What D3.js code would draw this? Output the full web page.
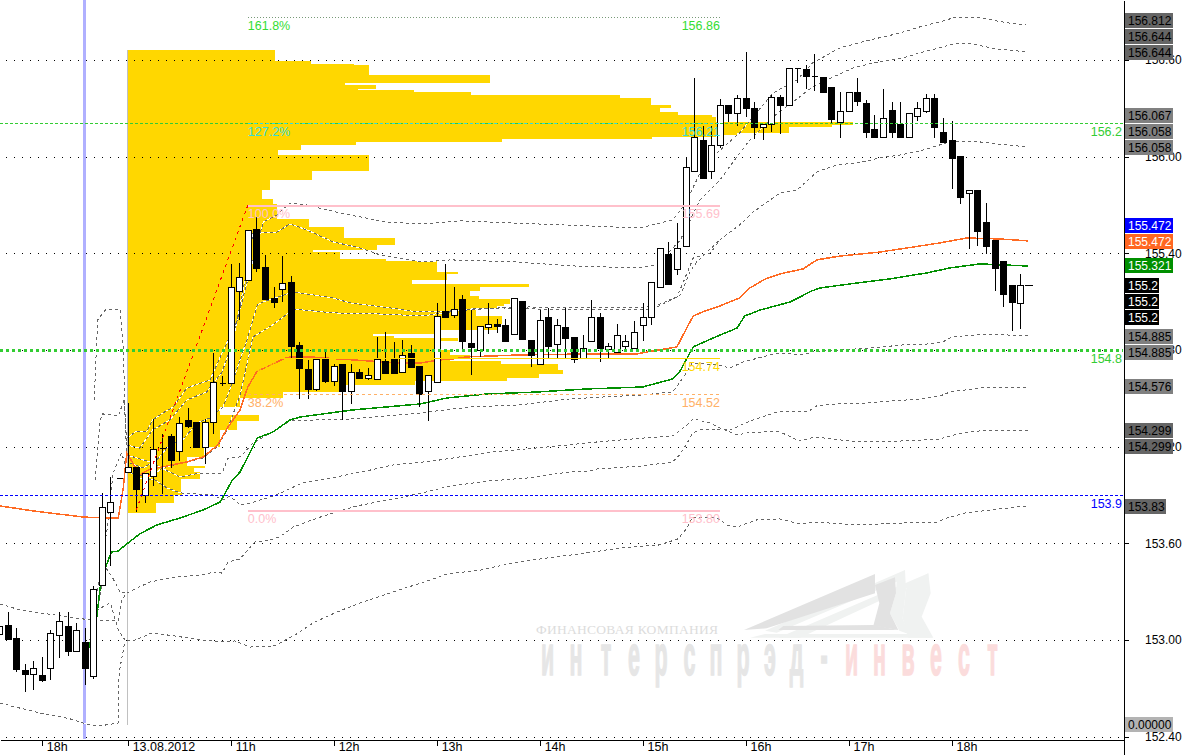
<!DOCTYPE html>
<html><head><meta charset="utf-8">
<script src="https://cdnjs.cloudflare.com/ajax/libs/d3/7.8.5/d3.min.js"></script>
<style>html,body{margin:0;padding:0;background:#fff;overflow:hidden}svg{display:block}text{font-family:"Liberation Sans",Arial,sans-serif}</style>
</head><body><div id="chart"></div>
<script>
// ---------- candles (5-minute bars) ----------
const opens=[153.037,153.093,153.012,152.814,152.789,152.783,152.826,153.031,153.087,152.932,152.988,152.777,153.341,153.795,154.005,154.043,154.074,153.900,154.018,154.191,154.266,154.173,154.365,154.353,154.198,154.353,154.595,154.595,155.166,155.234,155.551,155.315,155.123,155.179,155.222,154.831,154.682,154.558,154.744,154.608,154.713,154.546,154.663,154.626,154.620,154.732,154.744,154.663,154.781,154.701,154.546,154.601,155.042,155.017,155.117,154.844,154.800,154.943,154.961,154.955,154.899,155.104,154.862,154.713,155.005,154.837,154.943,154.881,154.750,154.856,155.005,154.806,154.788,154.825,154.812,154.955,155.005,155.191,155.396,155.303,155.445,155.911,156.103,155.911,156.072,156.321,156.271,156.364,156.302,156.184,156.203,156.370,156.321,156.550,156.544,156.501,156.494,156.432,156.215,156.283,156.401,156.333,156.172,156.122,156.290,156.203,156.122,156.252,156.283,156.364,156.153,156.103,156.004,155.774,155.793,155.594,155.483,155.353,155.203,155.092];
const highs=[153.087,153.180,153.081,152.857,152.876,152.901,153.068,153.180,153.180,153.112,153.081,153.341,153.919,154.018,154.005,154.477,154.074,154.043,154.378,154.284,154.284,154.390,154.446,154.353,154.378,154.788,154.645,155.340,155.346,155.545,155.632,155.396,155.197,155.390,155.265,154.856,154.744,154.744,154.800,154.719,154.713,154.719,154.688,154.695,154.887,154.918,154.856,154.868,154.837,154.701,154.645,155.098,155.340,155.197,155.148,155.054,154.949,155.098,154.998,154.998,155.123,155.104,154.862,155.054,155.067,154.998,155.067,154.881,154.899,155.117,155.036,154.850,154.967,154.899,154.986,155.098,155.222,155.433,155.477,155.594,155.998,156.494,156.197,156.197,156.364,156.321,156.389,156.656,156.346,156.203,156.389,156.389,156.550,156.557,156.575,156.643,156.494,156.432,156.408,156.401,156.494,156.358,156.265,156.426,156.346,156.346,156.271,156.346,156.395,156.395,156.246,156.228,156.004,155.793,155.793,155.719,155.483,155.353,155.203,155.278];
const lows=[153.037,153.006,152.808,152.684,152.696,152.746,152.758,152.894,152.907,152.932,152.727,152.764,153.341,153.465,154.005,154.043,153.801,153.857,153.962,153.913,154.074,154.117,154.322,154.198,154.098,154.284,154.583,154.595,154.992,155.234,155.290,155.117,155.067,155.104,154.757,154.502,154.502,154.552,154.601,154.583,154.372,154.471,154.626,154.620,154.620,154.657,154.657,154.663,154.694,154.453,154.365,154.601,155.005,155.005,154.800,154.651,154.763,154.905,154.912,154.856,154.899,154.868,154.701,154.713,154.750,154.757,154.757,154.725,154.750,154.856,154.732,154.750,154.788,154.806,154.812,154.862,154.961,155.191,155.210,155.272,155.445,155.911,155.868,155.868,156.060,156.222,156.197,156.252,156.116,156.110,156.159,156.147,156.321,156.463,156.426,156.414,156.401,156.209,156.122,156.283,156.321,156.122,156.122,156.122,156.122,156.122,156.122,156.228,156.277,156.122,156.091,155.805,155.712,155.433,155.452,155.402,155.172,155.073,154.924,154.937];
const closes=[153.087,153.006,152.820,152.789,152.826,152.752,153.043,153.118,152.932,153.062,152.826,153.316,153.826,153.857,154.005,154.074,153.937,154.036,154.185,154.191,154.117,154.347,154.328,154.198,154.353,154.601,154.595,155.191,155.253,155.545,155.309,155.117,155.098,155.216,154.825,154.688,154.558,154.744,154.608,154.701,154.546,154.663,154.626,154.645,154.744,154.657,154.657,154.769,154.694,154.527,154.645,155.011,155.005,155.054,154.856,154.819,154.949,154.961,154.949,154.856,155.123,154.868,154.769,154.986,154.825,154.955,154.874,154.744,154.812,155.005,154.812,154.825,154.893,154.856,154.912,155.005,155.222,155.433,155.210,155.433,155.936,156.122,155.868,156.072,156.321,156.271,156.364,156.302,156.184,156.203,156.370,156.321,156.550,156.550,156.501,156.501,156.401,156.234,156.283,156.401,156.346,156.153,156.122,156.240,156.153,156.122,156.271,156.302,156.364,156.184,156.091,155.992,155.750,155.793,155.539,155.445,155.309,155.148,155.098,155.203];

// ---------- moving lines: [bar index, price] ----------
const vwapOrange=[[0.1,153.832],[4.0,153.801],[9.8,153.763],[12.4,153.757],[13.9,153.757],[14.5,153.950],[14.9,154.161],[15.6,154.098],[16.4,154.024],[17.4,154.055],[18.4,154.067],[21.9,154.105],[23.8,154.136],[25.5,154.210],[26.7,154.322],[28.1,154.428],[29.0,154.570],[30.1,154.670],[31.2,154.694],[33.1,154.744],[33.9,154.757],[36.2,154.757],[41.3,154.738],[46.7,154.719],[49.1,154.719],[51.4,154.738],[52.9,154.744],[54.5,154.757],[60.7,154.769],[68.5,154.775],[74.3,154.775],[76.2,154.794],[79.0,154.819],[80.2,154.943],[80.9,155.011],[82.0,155.036],[84.0,155.073],[86.3,155.123],[87.5,155.185],[89.3,155.241],[91.0,155.272],[93.7,155.303],[95.3,155.359],[98.0,155.383],[102.7,155.408],[105.8,155.433],[109.6,155.464],[112.8,155.495],[116.6,155.489],[119.9,155.477]];
const vwapGreen=[[10.4,152.938],[11.4,153.143],[11.8,153.329],[12.4,153.447],[13.1,153.546],[13.9,153.552],[14.9,153.596],[16.4,153.658],[18.4,153.714],[21.1,153.757],[23.8,153.807],[25.8,153.857],[27.2,153.993],[28.1,154.043],[30.1,154.253],[31.9,154.290],[33.9,154.365],[35.1,154.384],[41.3,154.428],[49.1,154.465],[52.2,154.502],[56.9,154.527],[62.7,154.539],[68.5,154.558],[75.0,154.570],[78.5,154.620],[79.3,154.663],[80.9,154.819],[83.2,154.874],[86.0,154.936],[86.9,155.011],[88.7,155.048],[92.2,155.098],[94.7,155.166],[95.7,155.185],[99.2,155.210],[103.8,155.241],[108.1,155.278],[110.8,155.309],[114.3,155.334],[119.9,155.321]];
const band812=[[14.9,154.253],[15.9,154.291],[17.2,154.291],[17.9,154.365],[19.1,154.409],[20.3,154.446],[21.9,154.564],[24.6,154.614],[26.0,154.781],[27.7,154.973],[29.2,155.278],[30.8,155.594],[32.4,155.638],[33.9,155.712],[35.9,155.700],[39.7,155.650],[45.2,155.594],[49.1,155.582],[53.7,155.601],[74.7,155.557],[78.5,155.607],[79.9,155.700],[81.7,155.899],[83.4,156.010],[86.3,156.147],[90.2,156.395],[93.0,156.476],[94.8,156.581],[98.0,156.675],[101.5,156.724],[105.0,156.767],[107.3,156.805],[109.6,156.836],[111.6,156.867],[114.3,156.861],[117.5,156.830],[119.7,156.817]];
const band644=[[14.9,154.210],[16.4,154.191],[17.9,154.303],[19.9,154.365],[21.9,154.490],[24.2,154.539],[26.0,154.663],[27.3,154.862],[28.9,155.297],[29.6,155.526],[32.4,155.532],[33.9,155.582],[35.9,155.545],[38.9,155.471],[42.1,155.433],[44.4,155.390],[49.4,155.346],[52.6,155.359],[60.4,155.346],[66.5,155.322],[74.7,155.309],[76.7,155.328],[79.4,155.483],[81.7,155.731],[84.0,155.855],[87.2,156.085],[90.2,156.246],[94.8,156.432],[97.2,156.494],[99.5,156.550],[101.8,156.581],[105.8,156.619],[107.7,156.650],[109.6,156.675],[111.2,156.699],[113.4,156.699],[116.3,156.668],[119.8,156.650]];
const band058=[[15.3,154.098],[16.8,154.067],[18.4,154.117],[19.9,154.210],[21.4,154.241],[23.1,154.347],[24.6,154.378],[26.1,154.446],[26.9,154.552],[28.9,154.862],[30.1,155.079],[30.8,155.098],[34.3,155.160],[38.9,155.123],[40.9,155.092],[45.6,155.061],[48.7,155.036],[51.4,155.036],[54.9,155.054],[61.9,155.067],[66.5,155.061],[76.2,155.067],[79.0,155.129],[79.6,155.203],[80.9,155.371],[82.9,155.402],[84.0,155.483],[86.3,155.576],[87.9,155.657],[91.0,155.774],[93.0,155.793],[95.3,155.905],[97.6,155.948],[100.0,155.961],[102.7,155.992],[105.0,156.010],[107.3,156.035],[109.6,156.072],[110.8,156.091],[114.3,156.091],[117.5,156.072],[119.8,156.060]];
const band067=[[15.0,154.043],[17.6,154.005],[19.0,154.067],[21.9,154.105],[23.8,154.129],[25.4,154.198],[26.6,154.303],[28.1,154.521],[29.6,154.881],[31.9,154.955],[33.6,155.023],[34.3,155.054],[38.9,155.030],[44.4,155.023],[49.4,155.011],[51.7,155.030],[54.5,155.048],[58.4,155.061],[66.5,155.048],[76.2,155.054],[79.4,155.141],[80.5,155.284],[81.3,155.346],[84.0,155.483]];
const band885=[[14.9,154.148],[17.6,154.105],[19.4,154.055],[21.1,154.012],[23.4,154.036],[26.0,154.036],[26.7,154.129],[28.1,154.136],[29.6,154.222],[31.6,154.284],[33.9,154.359],[36.5,154.365],[41.3,154.372],[49.1,154.409],[54.9,154.446],[60.7,154.459],[66.5,154.496],[70.4,154.508],[75.0,154.521],[78.5,154.539],[79.7,154.626],[80.8,154.719],[83.7,154.707],[85.2,154.688],[86.7,154.725],[90.7,154.781],[93.7,154.769],[94.7,154.788],[101.5,154.812],[105.3,154.831],[107.3,154.831],[110.0,154.850],[111.0,154.881],[115.1,154.899],[119.9,154.887]];
const band576=[[14.9,153.292],[17.6,153.360],[20.7,153.391],[23.4,153.403],[25.2,153.422],[26.0,153.415],[26.7,153.484],[28.1,153.503],[29.8,153.608],[31.6,153.621],[32.7,153.639],[34.3,153.701],[37.1,153.757],[39.7,153.801],[41.7,153.832],[45.9,153.875],[49.4,153.913],[52.6,153.956],[57.2,153.987],[61.5,154.005],[66.5,154.043],[68.5,154.043],[69.7,154.061],[75.0,154.080],[78.5,154.105],[79.3,154.148],[80.2,154.222],[80.8,154.284],[81.7,154.303],[83.7,154.309],[85.2,154.303],[87.5,154.359],[90.7,154.415],[94.2,154.415],[95.3,154.453],[97.6,154.465],[101.5,154.471],[103.8,154.483],[107.7,154.496],[110.0,154.521],[110.8,154.539],[115.1,154.570],[119.9,154.570]];
const band299=[[14.9,154.055],[16.4,154.005],[18.2,153.993],[19.6,153.943],[21.1,153.913],[24.9,153.900],[26.1,153.869],[26.9,153.894],[28.1,153.838],[29.3,153.850],[31.6,153.887],[33.1,153.919],[35.3,153.974],[38.6,154.005],[42.3,154.043],[45.9,154.086],[50.6,154.111],[53.7,154.136],[57.6,154.167],[63.9,154.198],[69.7,154.229],[75.0,154.253],[78.5,154.266],[79.9,154.322],[80.9,154.372],[82.8,154.347],[84.0,154.316],[86.0,154.272],[87.2,154.285],[89.0,154.291],[91.0,154.291],[93.3,154.235],[95.1,154.260],[100.0,154.229],[105.3,154.235],[109.6,154.247],[110.8,154.266],[112.3,154.285],[115.1,154.303],[119.9,154.303]];
const band383=[[14.9,152.994],[15.9,153.000],[17.8,153.043],[20.5,153.025],[23.4,153.000],[26.0,152.988],[27.5,152.994],[29.3,152.956],[32.2,152.963],[33.6,153.006],[34.5,153.031],[36.6,153.106],[39.4,153.174],[42.1,153.230],[45.9,153.298],[49.9,153.366],[52.2,153.409],[56.1,153.434],[59.9,153.478],[63.9,153.509],[67.7,153.534],[72.4,153.571],[77.0,153.590],[79.1,153.627],[80.2,153.695],[80.8,153.763],[83.7,153.757],[84.8,153.714],[86.0,153.701],[88.3,153.745],[91.0,153.751],[93.3,153.720],[95.1,153.732],[100.0,153.714],[105.3,153.726],[109.3,153.732],[110.8,153.763],[112.6,153.788],[115.5,153.807],[119.8,153.832]];
const prevLow=[[0.1,152.609],[1.9,152.584],[4.8,152.547],[8.3,152.510],[10.6,152.472],[12.4,152.472],[13.9,152.485],[14.0,152.795],[14.6,152.969],[14.9,152.994]];
const prevUp=[[0.1,153.223],[2.5,153.186],[4.8,153.168],[8.9,153.136],[11.8,153.118],[13.9,153.118],[14.3,153.248],[14.9,153.292]];
const prevC=[[10.6,153.000],[11.4,153.186],[13.0,153.230],[13.9,153.062],[14.7,153.000]];
const prevD=[[10.8,153.062],[11.8,153.267],[12.4,153.453],[13.2,153.391],[14.1,153.298],[14.9,153.292]];
const prevE=[[11.1,153.155],[11.8,153.434],[12.6,153.683],[13.3,154.036],[14.3,154.161],[14.9,154.055]];
const prevF=[[11.2,153.993],[11.8,154.365],[12.1,154.403],[13.9,154.390],[14.6,154.490],[14.9,154.210]];
const prevG=[[11.1,154.490],[11.5,154.986],[12.4,155.048],[14.1,155.054],[14.5,154.800],[14.7,154.365],[14.9,154.148]];

// ---------- volume profile: upper edge of each price band, then its volume ----------
const profilePrices=[156.662,156.594,156.575,156.569,156.507,156.457,156.445,156.420,156.414,156.401,156.383,156.364,156.321,156.302,156.277,156.259,156.246,156.215,156.197,156.184,156.147,156.134,156.122,156.110,156.091,156.072,156.041,156.010,155.911,155.855,155.793,155.737,155.706,155.613,155.563,155.495,155.452,155.421,155.408,155.365,155.353,155.284,155.272,155.234,155.210,155.191,155.166,155.135,155.117,155.086,155.073,155.061,155.011,154.961,154.924,154.899,154.887,154.874,154.856,154.800,154.769,154.750,154.732,154.713,154.676,154.651,154.626,154.608,154.583,154.539,154.502,154.446,154.397,154.359,154.303,154.198,154.136,154.080,154.067,154.043,154.000,153.919,153.900,153.850,153.788];
const profileVolumes=[148,184,227,242,363,218,249,231,287,344,493,524,544,533,551,585,589,726,705,662,610,589,525,375,229,174,151,242,185,143,135,146,150,182,217,268,250,186,213,259,310,331,320,285,402,353,343,352,383,377,370,349,375,370,313,246,267,331,313,323,343,323,374,431,436,412,380,288,216,156,113,93,132,110,93,77,60,78,67,73,54,55,47,29];

// ---------- fibonacci, levels, labels ----------
const fibLevels=[156.868,156.208,155.698,154.747,154.524,153.806];
const fibPercents=["161.8%","127.2%","100.0%","50.0%","38.2%","0.0%"];
const fibPrices=["156.86","156.21","155.69","154.74","154.52","153.80"];
const fibColors=["#33dd33","#33dddd","#ffc0cb","#ffd700","#ffb066","#ffc0cb"];
const levelPrices=[156.206,154.8,153.9];
const levelLabels=["156.2","154.8","153.9"];
const levelColors=["#33cc33","#33cc33","#0000ff"];
const priceTicks=[156.6,156.0,155.4,154.8,154.2,153.6,153.0,152.4];
const timeTickBars=[5,15,27,39,51,63,75,87,99,111];
const timeTickLabels=["18h","13.08.2012","11h","12h","13h","14h","15h","16h","17h","18h"];
const tagLabels=["156.812","156.644","156.644","156.067","156.058","156.058","155.472","155.472","155.321","155.2","155.2","155.2","154.885","154.885","154.576","154.299","154.299","153.83","0.00000"];
const tagFills=["#666666","#666666","#666666","#808080","#808080","#808080","#0000ff","#ff6622","#008f00","#000000","#000000","#000000","#808080","#808080","#808080","#666666","#666666","#666666","#b3b3b3"];
const tagInk=["#000","#000","#000","#000","#000","#000","#fff","#fff","#fff","#fff","#fff","#fff","#000","#000","#000","#000","#000","#000","#000"];

// ---------- layout ----------
const W=1182,H=755,axisX=1123,axisY=739;
const tagTops=[13,29,45,108,124,140,218,234,258,278,294,310,329,345,379,423,439,499,717];
const x=d3.scaleLinear().domain([0.126,130.97]).range([0,axisX]);
const y=d3.scaleLinear().domain([156.972,152.286]).range([0,H]);
const vol=d3.scaleLinear().domain([0,726]).range([x(14.92),x(14.92)+726]);
const cx=i=>Math.round(x(i))+0.5, cy=p=>Math.round(y(p))+0.5;

const svg=d3.select("#chart").append("svg").attr("width",W).attr("height",H).attr("viewBox",`0 0 ${W} ${H}`);

// watermark
const wm=svg.append("g");
const z=p=>p.map(([a,b])=>[520+a/3,560+b/3].join(",")).join(" ");
[[[775,233],[1225,40],[1225,55],[840,233]],
 [[1160,80],[1225,40],[1232,100],[1205,170],[1240,233],[1165,233],[1148,175],[1158,90]],
 [[735,212],[1155,30],[1155,55],[770,218]],
 [[1130,60],[1155,30],[1158,90],[1148,175],[1165,222],[1138,212],[1110,160],[1128,100]],
 [[690,233],[1240,233],[1165,222],[735,222]]]
 .forEach(p=>wm.append("polygon").attr("points",z(p)).attr("fill","#f0f2f1"));
[[[672,210],[1065,42],[1065,100],[740,205]],
 [[790,198],[1060,195],[1135,210],[775,210]],
 [[1065,75],[1125,52],[1128,100],[1110,160],[1135,210],[1060,197],[1078,130]]]
 .forEach(p=>wm.append("polygon").attr("points",z(p)).attr("fill","#e2e2e2"));
wm.append("text").attr("x",536).attr("y",634).attr("font-size",13.5).attr("fill","#dcdcdc").style("font-family","'Liberation Serif',serif").attr("textLength",182).text("ФИНАНСОВАЯ КОМПАНИЯ");
const wmChars="интерспрэд-инвест".split("");
const wmX=[547.5,576,606,634,661,689.5,716,743,770,796.5,824,851.5,879.5,908,936,964,992.5];
wmChars.forEach((c,i)=>wm.append("text").attr("transform",`translate(${wmX[i]},675) scale(0.37,1)`)
  .attr("text-anchor","middle").attr("font-size",58).attr("font-weight","bold")
  .attr("fill",i>10?"#fbdcdc":"#e6e6e6").attr("stroke",i>10?"#fbdcdc":"#e6e6e6").attr("stroke-width",1.5).text(c));

// volume profile
svg.append("g").selectAll("rect").data(profileVolumes).join("rect")
  .attr("x",vol(0)).attr("width",d=>vol(d)-vol(0))
  .attr("y",(d,i)=>Math.round(y(profilePrices[i])))
  .attr("height",(d,i)=>Math.round(y(profilePrices[i+1]))-Math.round(y(profilePrices[i])))
  .attr("fill","#ffd700").attr("shape-rendering","crispEdges");

// dotted grid
svg.append("g").selectAll("line").data(priceTicks).join("line")
  .attr("x1",6).attr("x2",axisX-2).attr("y1",cy).attr("y2",cy)
  .attr("stroke","#000").attr("stroke-dasharray","1,7").attr("shape-rendering","crispEdges");

// session separators
const sep=svg.append("g").attr("shape-rendering","crispEdges");
sep.append("line").attr("x1",x(10)).attr("x2",x(10)).attr("y1",0).attr("y2",axisY).attr("stroke","#b0b0ff").attr("stroke-width",3);
sep.append("line").attr("x1",cx(14.92)).attr("x2",cx(14.92)).attr("y1",y(156.662)).attr("y2",y(152.472)).attr("stroke","#c0c0c0");

// bands
const path=d3.line().x(d=>x(d[0])).y(d=>y(d[1]));
const bands=[band812,band644,band058,band067,band885,band576,band299,band383,prevLow,prevUp,prevC,prevD,prevE,prevF,prevG];
const bg=svg.append("g").attr("fill","none").attr("shape-rendering","crispEdges");
bg.selectAll("path.u").data(bands).join("path").attr("class","u").attr("d",path).attr("stroke","#fff").attr("stroke-width",1);
bg.selectAll("path.d").data(bands).join("path").attr("class","d").attr("d",path).attr("stroke","#666").attr("stroke-width",1).attr("stroke-dasharray","3,3");

// vwaps
svg.append("path").attr("d",path(vwapOrange)).attr("fill","none").attr("stroke","#ff6a22").attr("stroke-width",1.5).attr("shape-rendering","crispEdges");
svg.append("path").attr("d",path(vwapGreen)).attr("fill","none").attr("stroke","#008f00").attr("stroke-width",1.5).attr("shape-rendering","crispEdges");

// candles
const cg=svg.append("g").attr("shape-rendering","crispEdges");
cg.selectAll("line").data(opens).join("line")
  .attr("x1",(d,i)=>cx(i)).attr("x2",(d,i)=>cx(i)).attr("y1",(d,i)=>cy(highs[i])).attr("y2",(d,i)=>cy(lows[i]))
  .attr("stroke","#000");
cg.selectAll("path").data(opens).join("path")
  .attr("d",(d,i)=>{const a=cy(d),b=cy(closes[i]),l=cx(i)-3,r=cx(i)+3;return `M${l} ${a}H${r}V${b}H${l}Z`;})
  .attr("fill",(d,i)=>closes[i]>=d?"#fff":"#000").attr("stroke","#000");
cg.append("line").attr("x1",cx(119)+4).attr("x2",cx(119)+12).attr("y1",cy(closes[119])).attr("y2",cy(closes[119])).attr("stroke","#000");

// fibonacci trend + levels
svg.append("line").attr("x1",x(16)).attr("y1",y(fibLevels[5])).attr("x2",x(29)).attr("y2",y(fibLevels[2]))
  .attr("stroke","#ff0000").attr("stroke-dasharray","3,4").attr("shape-rendering","crispEdges");
const fibX0=x(29),fibX1=x(84);
const lg=svg.append("g");
levelPrices.forEach((p,i)=>{
  const thick=i===1;
  lg.append("line").attr("x1",0).attr("x2",axisX).attr("y1",cy(p)).attr("y2",cy(p))
    .attr("stroke",levelColors[i]).attr("stroke-width",thick?3:1).attr("stroke-dasharray",thick?"3,3":"3,2").attr("shape-rendering","crispEdges");
  lg.append("text").attr("x",axisX-1).attr("y",cy(p)+12).attr("text-anchor","end").attr("font-size",12.5).attr("fill",levelColors[i]).text(levelLabels[i]);
});
const fg=svg.append("g");
fibLevels.forEach((p,i)=>{
  const solid=i===2||i===5||i===3;
  fg.append("line").attr("x1",fibX0).attr("x2",fibX1).attr("y1",cy(p)).attr("y2",cy(p))
    .attr("stroke",i===0?"#779977":fibColors[i]).attr("stroke-width",i===2||i===5?2:(i===3?1.5:1))
    .attr("stroke-dasharray",solid?null:(i===0?"1,2":"3,3")).attr("shape-rendering","crispEdges");
  fg.append("text").attr("x",fibX0).attr("y",cy(p)+12).attr("font-size",12.5).attr("fill",fibColors[i]).text(fibPercents[i]);
  fg.append("text").attr("x",x(79.55)).attr("y",cy(p)+12).attr("font-size",12.5).attr("fill",fibColors[i]).text(fibPrices[i]);
});

// axes
const yAxis=d3.axisRight(y).tickValues(priceTicks).tickFormat(d3.format(".2f")).tickSize(5).tickSizeOuter(0);
const ya=svg.append("g").attr("transform",`translate(${axisX+0.5},0)`).call(yAxis);
ya.selectAll("text").attr("x",21.5).attr("font-size",12).attr("fill","#000").style("font-family","'Liberation Sans',Arial");
const xAxis=d3.axisBottom(x).tickValues(timeTickBars).tickFormat((d,i)=>timeTickLabels[i]).tickSize(6).tickSizeOuter(0);
const xa=svg.append("g").attr("transform",`translate(0,${axisY+0.5})`).call(xAxis);
xa.selectAll("text").attr("x",4.5).attr("y",3).attr("dy","0.71em").attr("text-anchor","start").attr("font-size",12.5).attr("fill","#000").style("font-family","'Liberation Sans',Arial");
svg.selectAll(".domain,.tick line").attr("stroke","#000").attr("shape-rendering","crispEdges");

// right-hand price tags
const tg=svg.append("g");
tagLabels.forEach((t,i)=>{
  const w=t.length===5?34:(t.length===6?41:48);
  tg.append("rect").attr("x",axisX+2).attr("y",tagTops[i]).attr("width",w).attr("height",15).attr("fill",tagFills[i]);
  tg.append("text").attr("x",axisX+5).attr("y",tagTops[i]+12).attr("font-size",12).attr("fill",tagInk[i]).text(t);
});
</script></body></html>
